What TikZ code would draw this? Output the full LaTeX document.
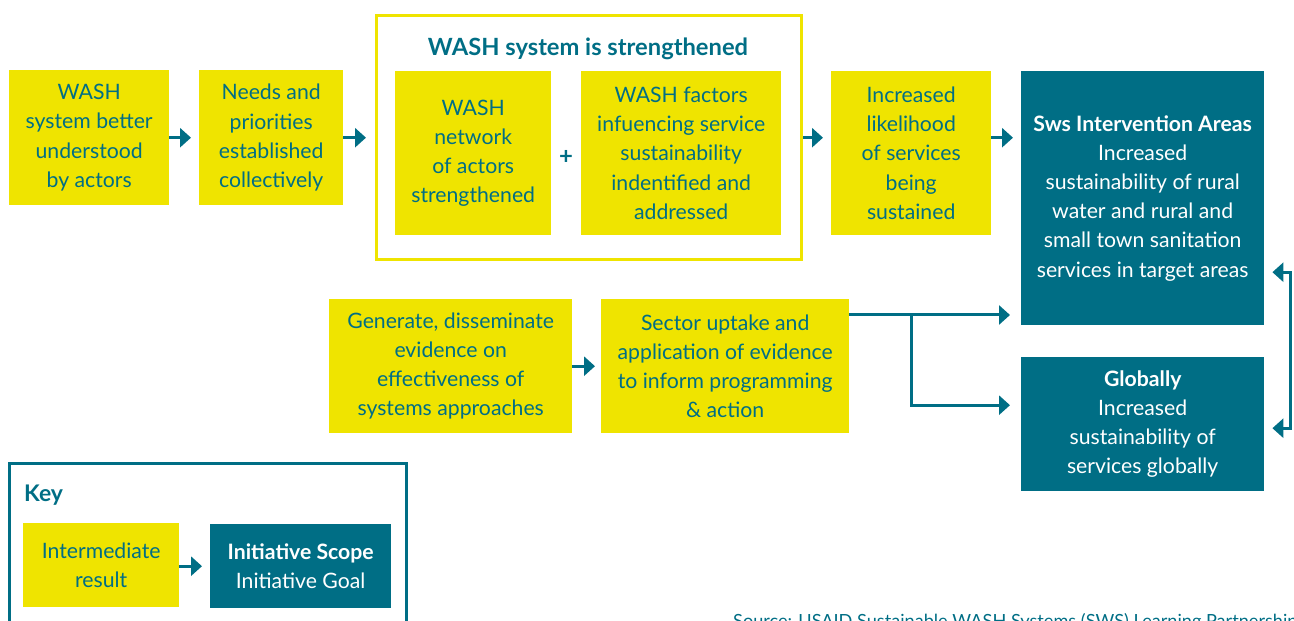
\documentclass[tikz,border=0pt]{standalone}
\usepackage{fontspec}
\setmainfont{Lato}
\usetikzlibrary{arrows.meta,calc}
\definecolor{washyellow}{RGB}{239,228,0}
\definecolor{washteal}{RGB}{0,110,133}

\begin{document}
\begin{tikzpicture}[x=1bp, y=-1bp,
    result/.style={fill=washyellow, text=washteal, align=center, anchor=north west,
        inner sep=0pt, font=\fontsize{21.3}{29.3}\selectfont},
    goal/.style={fill=washteal, text=white, align=center, anchor=north west,
        inner sep=0pt, font=\fontsize{21.3}{29.3}\selectfont},
    groupbox/.style={draw, line width=3bp, anchor=north west, inner sep=0pt},
    flow/.style={washteal, line width=3bp, -{Triangle[length=11bp,width=19bp]}},
    both/.style={flow, {Triangle[length=11bp,width=19bp]}-{Triangle[length=11bp,width=19bp]}}
]
    \useasboundingbox (0,0) rectangle (1294,621);

    % top row
    \node[result, minimum width=160bp, minimum height=135bp] (understood) at (9,70)
        {WASH\\system better\\understood\\by actors};
    \node[result, minimum width=144bp, minimum height=135bp] (priorities) at (199,70)
        {Needs and\\priorities\\established\\collectively};
    \node[groupbox, draw=washyellow, minimum width=425bp, minimum height=244bp] (strengthened) at (375,14) {};
    \node[text=washteal, font=\fontsize{23.8}{27}\selectfont\bfseries] (title) at (588,49)
        {WASH system is strengthened};
    \node[result, minimum width=156bp, minimum height=164bp] (network) at (395,71)
        {WASH\\network\\of actors\\strengthened};
    \node[text=washteal, font=\fontsize{24}{27}\selectfont\bfseries] (plus) at (566,157) {+};
    \node[result, minimum width=200bp, minimum height=164bp] (factors) at (581,71)
        {WASH factors\\infuencing service\\sustainability\\indentified and\\addressed};
    \node[result, minimum width=160bp, minimum height=164bp] (likely) at (831,71)
        {Increased\\likelihood\\of services\\being\\sustained};
    \node[goal, minimum width=243bp, minimum height=254bp] (intervention) at (1021,71)
        {\textbf{Sws Intervention Areas}\\Increased\\sustainability of rural\\water and rural and\\small town sanitation\\services in target areas};

    % evidence row
    \node[result, minimum width=243bp, minimum height=134bp] (evidence) at (329,299)
        {Generate, disseminate\\evidence on\\effectiveness of\\systems approaches};
    \node[result, minimum width=248bp, minimum height=134bp] (uptake) at (601,299)
        {Sector uptake and\\application of evidence\\to inform programming\\\& action};
    \node[goal, minimum width=243bp, minimum height=134bp] (globally) at (1021,357)
        {\textbf{Globally}\\Increased\\sustainability of\\services globally};

    % key
    \node[groupbox, draw=washteal, minimum width=397bp, minimum height=190bp] (key) at (8,462) {};
    \node[anchor=west, inner sep=0pt, text=washteal, font=\fontsize{23}{27}\selectfont\bfseries] (keytitle) at (24,495) {Key};
    \node[result, minimum width=156bp, minimum height=84bp] (keyresult) at (23,523)
        {Intermediate\\result};
    \node[goal, minimum width=181bp, minimum height=84bp] (keygoal) at (210,524)
        {\textbf{Initiative Scope}\\Initiative Goal};
    \node[anchor=base west, inner sep=0pt, text=washteal, font=\fontsize{18.2}{21}\selectfont] (source) at (733,627)
        {Source: USAID Sustainable WASH Systems (SWS) Learning Partnership};

    % connectors
    \draw[flow, shorten >=8bp] (understood) -- (priorities);
    \draw[flow, shorten >=9bp] (priorities.east) -- (priorities.east -| strengthened.west);
    \draw[flow, shorten >=8bp] (priorities.east -| strengthened.east) -- (priorities.east -| likely.west);
    \draw[flow, shorten >=8bp] (priorities.east -| likely.east) -- (priorities.east -| intervention.west);
    \draw[flow, shorten >=6bp] (evidence) -- (uptake);
    \coordinate (split) at ($(uptake.north east)+(0,16)$);
    \draw[flow, shorten >=11bp] (split) -- (split -| intervention.west);
    \draw[flow, shorten >=11bp] ($(split)+(62,0)$) |- ($(globally.west)+(0,-19)$);
    \draw[both, shorten <=8bp, shorten >=8bp] ($(intervention.east)+(0,74)$) -- ++(26,0) |- ($(globally.east)+(0,4)$);
    \draw[flow, shorten >=8bp] (keyresult.east |- keygoal) -- (keygoal);
\end{tikzpicture}
\end{document}
